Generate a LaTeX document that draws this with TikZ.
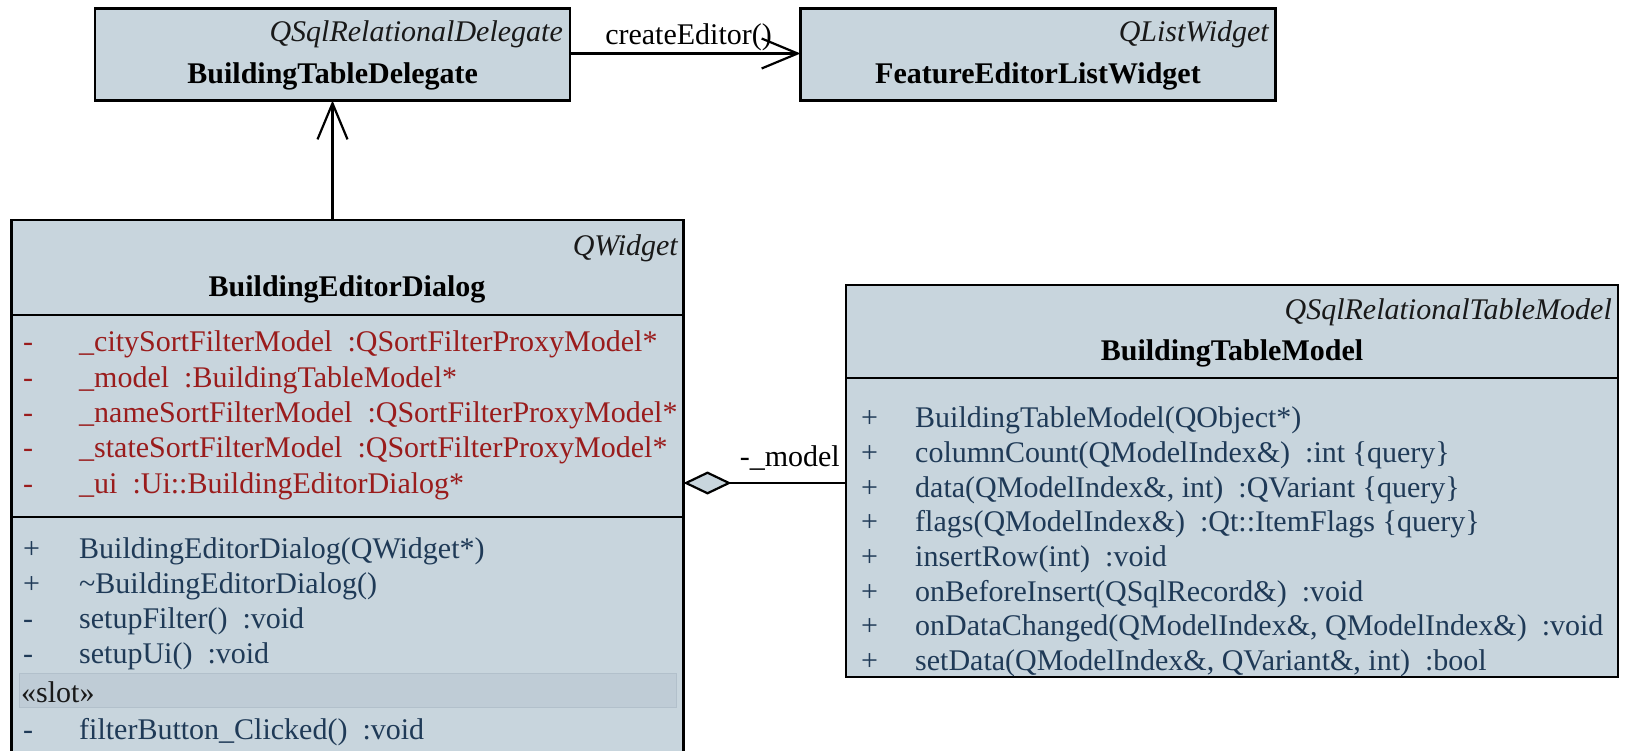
\documentclass[tikz,border=0pt]{standalone}
\usepackage{fontspec}
\setmainfont{Liberation Serif}
\usetikzlibrary{arrows.meta}

\definecolor{classfill}{HTML}{C8D5DD}
\definecolor{slotfill}{HTML}{BFCCD6}
\definecolor{slotedge}{HTML}{B2C0CB}
\definecolor{attrred}{HTML}{9A1C1C}
\definecolor{opnavy}{HTML}{1F3A57}

\begin{document}
\begin{tikzpicture}[x=1pt,y=-1pt,
  every node/.style={font=\fontsize{30}{36}\selectfont},
  classbox/.style={draw=black, line width=2.2pt, fill=classfill,
    anchor=north west, inner sep=0pt, outer sep=0pt},
  stereo/.style={anchor=base east, inner sep=0pt,
    font=\fontsize{30}{36}\selectfont\itshape, text=black!90},
  classname/.style={anchor=base, inner sep=0pt,
    font=\fontsize{30}{36}\selectfont\bfseries},
  member/.style={anchor=base west, inner sep=0pt},
  attr/.style={member, text=attrred},
  oper/.style={member, text=opnavy},
  divider/.style={line width=2.2pt},
  assoc/.style={line width=2.2pt, -{Straight Barb[length=36pt,width=30pt]}},
  aggr/.style={line width=2.2pt, {Diamond[length=48pt,width=23pt,fill=classfill]}-},
  conlabel/.style={inner sep=0pt, text=black},
]
\clip (0,0) rectangle (1626,751);

% ---- class boxes ----
\node[classbox, minimum width=475pt, minimum height=92pt] (btd) at (95,8.5) {};
\node[classbox, minimum width=475pt, minimum height=92pt] (felw) at (800.5,8.5) {};
\node[classbox, minimum width=672pt, minimum height=560pt] (bed) at (11.5,220) {};
\node[classbox, minimum width=772pt, minimum height=392pt] (btm) at (846,285) {};

% ---- compartment dividers ----
\draw[divider] (bed.west |- 0,315) -- (bed.east |- 0,315);
\draw[divider] (bed.west |- 0,517) -- (bed.east |- 0,517);
\draw[divider] (btm.west |- 0,378) -- (btm.east |- 0,378);

% ---- BuildingTableDelegate ----
\node[stereo] (btd-st) at (563,42) {QSqlRelationalDelegate};
\node[classname] (btd-nm) at (332.7,83.5) {BuildingTableDelegate};

% ---- FeatureEditorListWidget ----
\node[stereo] (felw-st) at (1269,42) {QListWidget};
\node[classname] (felw-nm) at (1038,83.5) {FeatureEditorListWidget};

% ---- BuildingEditorDialog ----
\node[stereo] (bed-st) at (678,256) {QWidget};
\node[classname] (bed-nm) at (347,297) {BuildingEditorDialog};

\foreach \i/\y/\txt in {
  1/352/{\_citySortFilterModel\ \ :QSortFilterProxyModel*},
  2/387.3/{\_model\ \ :BuildingTableModel*},
  3/422.6/{\_nameSortFilterModel\ \ :QSortFilterProxyModel*},
  4/457.9/{\_stateSortFilterModel\ \ :QSortFilterProxyModel*},
  5/493.2/{\_ui\ \ :Ui::BuildingEditorDialog*}} {
  \node[attr] (bed-am\i) at (23,\y) {-};
  \node[attr] (bed-a\i) at (79,\y) {\txt};
}

\foreach \i/\y/\m/\txt in {
  1/558/+/{BuildingEditorDialog(QWidget*)},
  2/593.3/+/{\textasciitilde BuildingEditorDialog()},
  3/628.6/-/{setupFilter()\ \ :void},
  4/663.9/-/{setupUi()\ \ :void}} {
  \node[oper] (bed-om\i) at (23,\y) {\m};
  \node[oper] (bed-o\i) at (79,\y) {\txt};
}

\node[draw=slotedge, fill=slotfill, line width=1pt, anchor=north west,
  inner sep=0pt, minimum width=657pt, minimum height=34pt] (bed-slot) at (19,673) {};
\node[member, text=black!90] (bed-slotlbl) at (21,702) {«slot»};
\node[oper] (bed-sm1) at (23,739) {-};
\node[oper] (bed-s1) at (79,739) {filterButton\_Clicked()\ \ :void};

% ---- BuildingTableModel ----
\node[stereo] (btm-st) at (1612,320) {QSqlRelationalTableModel};
\node[classname] (btm-nm) at (1232,361) {BuildingTableModel};

\foreach \i/\y/\txt in {
  1/428/{BuildingTableModel(QObject*)},
  2/462.6/{columnCount(QModelIndex\&)\ \ :int \{query\}},
  3/497.2/{data(QModelIndex\&, int)\ \ :QVariant \{query\}},
  4/531.8/{flags(QModelIndex\&)\ \ :Qt::ItemFlags \{query\}},
  5/566.4/{insertRow(int)\ \ :void},
  6/601/{onBeforeInsert(QSqlRecord\&)\ \ :void},
  7/635.6/{onDataChanged(QModelIndex\&, QModelIndex\&)\ \ :void},
  8/670.2/{setData(QModelIndex\&, QVariant\&, int)\ \ :bool}} {
  \node[oper] (btm-om\i) at (861,\y) {+};
  \node[oper] (btm-o\i) at (915,\y) {\txt};
}

% ---- relations ----
\draw[assoc] (btd.east |- 0,53.5) -- (felw.west |- 0,53.5);
\node[conlabel, anchor=base east] (lbl-create) at (772,45) {createEditor()};

\draw[assoc] (btd.south |- bed.north) -- (btd.south);

\coordinate (aggy) at (0,483);
\draw[aggr] (bed.east |- aggy) -- (btm.west |- aggy);
\node[conlabel, anchor=base east] (lbl-model) at (840,466) {-\_model};
\end{tikzpicture}
\end{document}
